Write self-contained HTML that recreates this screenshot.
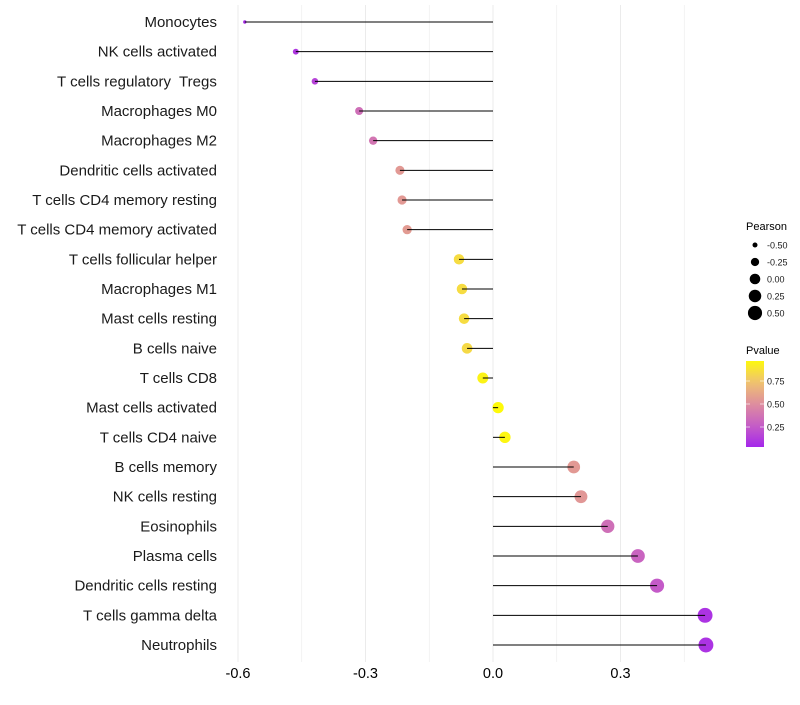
<!DOCTYPE html>
<html><head><meta charset="utf-8"><style>
body{margin:0;background:#fff;font-family:"Liberation Sans",sans-serif}
svg text{font-family:"Liberation Sans",sans-serif;white-space:pre}
</style></head><body>
<svg id="c" width="800" height="700" xmlns="http://www.w3.org/2000/svg"></svg>
<script>
const categories=["Monocytes","NK cells activated","T cells regulatory  Tregs ","Macrophages M0","Macrophages M2","Dendritic cells activated","T cells CD4 memory resting","T cells CD4 memory activated","T cells follicular helper","Macrophages M1","Mast cells resting","B cells naive","T cells CD8","Mast cells activated","T cells CD4 naive","B cells memory","NK cells resting","Eosinophils","Plasma cells","Dendritic cells resting","T cells gamma delta","Neutrophils"];
const pearson=[-0.584,-0.464,-0.419,-0.315,-0.282,-0.219,-0.214,-0.202,-0.08,-0.073,-0.068,-0.061,-0.024,0.012,0.028,0.19,0.207,0.27,0.341,0.386,0.499,0.501];
const pvalue=[0.05,0.1,0.15,0.35,0.38,0.55,0.55,0.56,0.85,0.85,0.85,0.84,0.95,0.98,0.96,0.55,0.54,0.35,0.3,0.25,0.08,0.08];
const xTicks=[-0.6,-0.3,0.0,0.3];
const xTickLabels=["-0.6","-0.3","0.0","0.3"];
const sizeLegend=[-0.5,-0.25,0,0.25,0.5];
const colorLegend=[0.25,0.5,0.75];

const NS="http://www.w3.org/2000/svg";
const svg=document.getElementById('c');
function mk(t,a,p){const e=document.createElementNS(NS,t);for(const k in a)e.setAttribute(k,a[k]);(p||svg).appendChild(e);return e;}
const x=v=>493+v*425;
const n=categories.length;
const y=i=>22+i*(645-22)/(n-1);
const rad=v=>Math.sqrt(Math.max(2.5,31.2+48.5*v));
function col(p){
  const stops=[[0,[160,32,240]],[0.25,[196,90,200]],[0.5,[222,142,158]],[0.75,[240,196,110]],[1,[255,255,0]]];
  p=Math.max(0,Math.min(1,p));
  let k=Math.min(3,Math.floor(p*4));const a=stops[k],b=stops[k+1];
  const t=(p-a[0])/(b[0]-a[0]);
  return 'rgb('+a[1].map((c,j)=>Math.round(c+(b[1][j]-c)*t)).join(',')+')';
}
for(let i=0;i<8;i++){
  const g=-0.6+i*0.15;
  const l=mk('line',{x1:x(g),x2:x(g),y1:5,y2:662,stroke:'#ebebeb','stroke-width':i%2===0?1:0.6});
  
  
}
xTicks.forEach((t,i)=>{
  const tx=mk('text',{x:x(t),y:678,'text-anchor':'middle','font-size':14.5,fill:'#000'});
  tx.textContent=xTickLabels[i];
  
  
});
categories.forEach((c,i)=>{
  const tx=mk('text',{x:c.endsWith(' ')?221:217,y:y(i)+5,'text-anchor':'end','font-size':15,fill:'#1a1a1a'});
  tx.textContent=c;
  
  
  const pt=mk('circle',{cx:x(pearson[i]),cy:y(i),r:rad(pearson[i]),fill:col(pvalue[i])});
  
  
  const ln=mk('line',{x1:x(0),x2:x(pearson[i]),y1:y(i),y2:y(i),stroke:'#000','stroke-width':1});
  
  
});
const lt=mk('text',{x:746,y:230,'font-size':11,fill:'#000'});lt.textContent='Pearson';


sizeLegend.forEach((v,i)=>{
  const cy=245+i*17;
  const c=mk('circle',{cx:755,cy:cy,r:rad(v)*0.95,fill:'#000'});
  
  
  const t=mk('text',{x:767,y:cy+3.5,'font-size':9,fill:'#1a1a1a'});t.textContent=v.toFixed(2);
  
  
});
const ct=mk('text',{x:746,y:354,'font-size':11,fill:'#000'});ct.textContent='Pvalue';


const defs=mk('defs',{});
const lg=mk('linearGradient',{id:'g',x1:0,y1:1,x2:0,y2:0},defs);
for(let s=0;s<=10;s++)mk('stop',{offset:s/10,'stop-color':col(0.03+s/10*0.94)},lg);
const bar=mk('rect',{x:746,y:361,width:18,height:86,fill:'url(#g)'});


colorLegend.forEach(v=>{
  const cy=450-v*92;
  mk('line',{x1:746,x2:750,y1:cy,y2:cy,stroke:'#fff','stroke-width':0.6});
  mk('line',{x1:760,x2:764,y1:cy,y2:cy,stroke:'#fff','stroke-width':0.6});
  const t=mk('text',{x:767,y:cy+3.5,'font-size':9,fill:'#1a1a1a'});t.textContent=v.toFixed(2);
  
  
});
</script>
</body></html>
